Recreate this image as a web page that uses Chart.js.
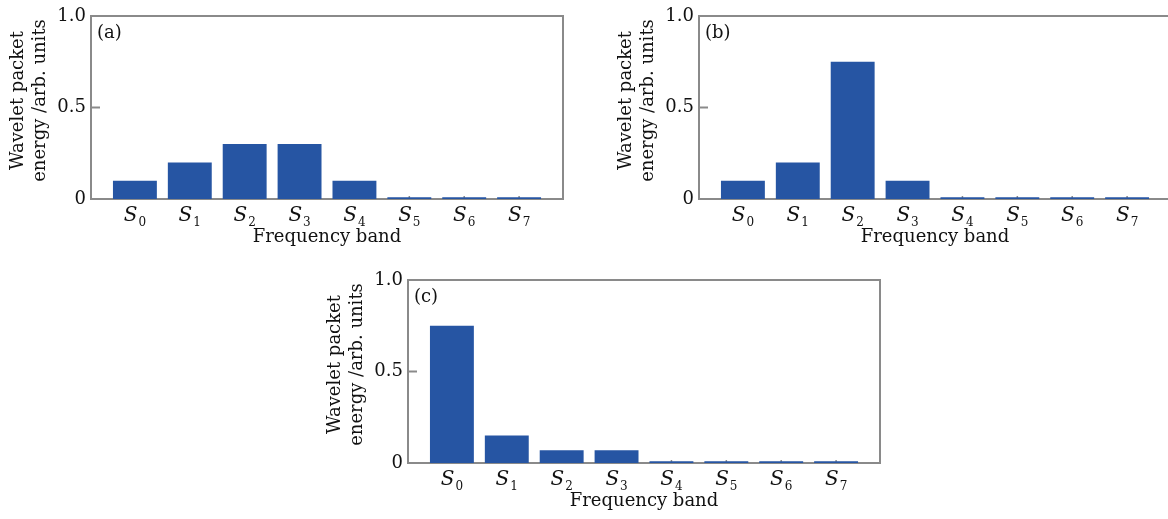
<!DOCTYPE html>
<html>
<head>
<meta charset="utf-8">
<script src="https://cdn.jsdelivr.net/npm/chart.js@4.4.0/dist/chart.umd.min.js"></script>
<style>
  html, body { margin: 0; padding: 0; background: #fff; }
  body { position: relative; width: 1168px; height: 519px; overflow: hidden; }
  .panel { position: absolute; width: 590px; height: 260px; }
  .panel canvas { display: block; }
</style>
</head>
<body>
<div class="panel" style="left:0;top:0"><canvas id="panelA" width="590" height="260"></canvas></div>
<div class="panel" style="left:608px;top:0"><canvas id="panelB" width="590" height="260"></canvas></div>
<div class="panel" style="left:317px;top:264px"><canvas id="panelC" width="590" height="260"></canvas></div>
<script>
// Frequency bands S0..S7 (subscript of each band label)
const bandSubscripts = ['0', '1', '2', '3', '4', '5', '6', '7'];

// Normalised wavelet packet energy per band
const energyA = [0.10, 0.20, 0.30, 0.30, 0.10, 0.01, 0.01, 0.01];
const energyB = [0.10, 0.20, 0.75, 0.10, 0.01, 0.01, 0.01, 0.01];
const energyC = [0.75, 0.15, 0.07, 0.07, 0.01, 0.01, 0.01, 0.01];

// Y axis ticks
const yTickValues = [0, 0.5, 1.0];
const yTickLabels = ['0', '0.5', '1.0'];

const yTitleLines = ['Wavelet packet', 'energy /arb. units'];
const xTitle = 'Frequency band';
const panelTags = ['(a)', '(b)', '(c)'];

const SERIF = "'DejaVu Serif', 'Liberation Serif', serif";
const BAR_COLOR = '#2655a3';
const FRAME_COLOR = '#8a8a8a';
const TEXT_COLOR = '#111';

// Frame, inward tick marks, axis titles, band labels with subscripts and the panel tag
function panelDecor(tag) {
  return {
    id: 'panelDecor',
    beforeDatasetsDraw(chart) {
      const { ctx, chartArea: a, scales: { x, y } } = chart;
      ctx.save();
      ctx.strokeStyle = FRAME_COLOR;
      ctx.lineWidth = 2;
      ctx.strokeRect(a.left, a.top, a.right - a.left, a.bottom - a.top);
      // inward y tick at 0.5
      const yMid = y.getPixelForValue(0.5);
      ctx.beginPath();
      ctx.moveTo(a.left, yMid);
      ctx.lineTo(a.left + 9, yMid);
      ctx.stroke();
      // inward x ticks at band centres
      ctx.lineWidth = 1.5;
      bandSubscripts.forEach((_, i) => {
        const px = x.getPixelForValue(i);
        ctx.beginPath();
        ctx.moveTo(px, a.bottom);
        ctx.lineTo(px, a.bottom - 3);
        ctx.stroke();
      });
      ctx.restore();
    },
    afterDraw(chart) {
      const { ctx, chartArea: a, scales: { x } } = chart;
      ctx.save();
      ctx.fillStyle = TEXT_COLOR;
      ctx.textBaseline = 'alphabetic';
      ctx.textAlign = 'left';
      const mainFont = "italic 20px " + SERIF;
      const subFont = "12px " + SERIF;
      bandSubscripts.forEach((sub, i) => {
        const px = x.getPixelForValue(i);
        ctx.font = mainFont;
        const wS = ctx.measureText('S').width;
        ctx.font = subFont;
        const wD = ctx.measureText(sub).width;
        const start = px - (wS + 1 + wD) / 2;
        ctx.font = mainFont;
        ctx.fillText('S', start, a.bottom + 22);
        ctx.font = subFont;
        ctx.fillText(sub, start + wS + 1, a.bottom + 27);
      });

      // x title
      ctx.font = "18px " + SERIF;
      ctx.textAlign = 'center';
      ctx.textBaseline = 'middle';
      ctx.fillText(xTitle, (a.left + a.right) / 2, a.bottom + 38);

      // y title, two rotated lines
      const cy = a.top + (a.bottom - a.top) / 2 - 7;
      yTitleLines.forEach((line, k) => {
        ctx.save();
        ctx.translate(a.left - 73 + k * 22, cy);
        ctx.rotate(-Math.PI / 2);
        ctx.fillText(line, 0, 0);
        ctx.restore();
      });

      // panel tag
      ctx.textAlign = 'left';
      ctx.textBaseline = 'alphabetic';
      ctx.fillText(tag, a.left + 6, a.top + 22);
      ctx.restore();
    }
  };
}

function makePanel(canvasId, values, tag) {
  const points = values.map((v, i) => ({ x: i, y: v }));
  return new Chart(document.getElementById(canvasId), {
    type: 'bar',
    data: {
      datasets: [{
        data: points,
        backgroundColor: BAR_COLOR,
        borderWidth: 0,
        barPercentage: 0.8,
        categoryPercentage: 1.0
      }]
    },
    options: {
      responsive: false,
      animation: false,
      devicePixelRatio: 1,
      layout: { padding: { left: 7, top: 16, right: 27, bottom: 12 } },
      plugins: { legend: { display: false }, tooltip: { enabled: false } },
      scales: {
        x: {
          type: 'linear',
          offset: false,
          min: -0.8,
          max: 7.8,
          grid: { display: false },
          border: { display: false },
          ticks: { display: false },
          // one tick per band, so bar widths follow the band spacing
          afterBuildTicks(s) { s.ticks = bandSubscripts.map((_, i) => ({ value: i })); },
          afterFit(s) { s.height = 49; }
        },
        y: {
          min: 0,
          max: 1,
          grid: { display: false, drawTicks: false },
          border: { display: false },
          afterBuildTicks(s) { s.ticks = yTickValues.map(v => ({ value: v })); },
          ticks: {
            color: TEXT_COLOR,
            padding: 5,
            font: { family: SERIF, size: 18 },
            callback: (v) => yTickLabels[yTickValues.indexOf(v)]
          },
          afterFit(s) { s.width = 84; }
        }
      }
    },
    plugins: [panelDecor(tag)]
  });
}

makePanel('panelA', energyA, panelTags[0]);
makePanel('panelB', energyB, panelTags[1]);
makePanel('panelC', energyC, panelTags[2]);
</script>
</body>
</html>
